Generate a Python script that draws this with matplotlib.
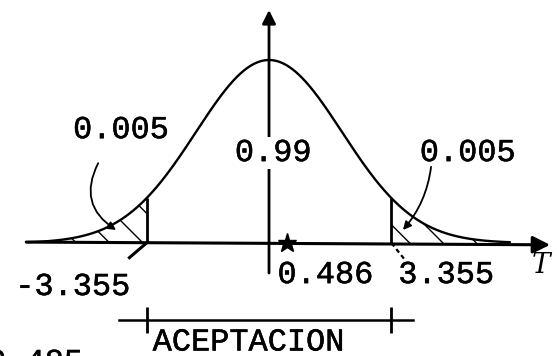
import numpy as np
import matplotlib
matplotlib.use("Agg")
import matplotlib.pyplot as plt
import matplotlib.patheffects as pe

# ---- data ----
t_crit = 3.355          # critical value (two tails)
t_obs = 0.486           # observed statistic
tail_area = 0.005       # area in each tail
center_area = 0.99      # acceptance area
sketch_sigma = 2.0      # spread used for the sketched bell
tail_labels = ["0.005", "0.005"]
center_label = "0.99"
crit_labels = ["-3.355", "3.355"]
obs_label = "0.486"
region_label = "ACEPTACION"
axis_label = "T"
bottom_label = "0.485"

plt.rcParams['hatch.linewidth'] = 1.0
fig = plt.figure(figsize=(5.57, 3.56), dpi=100)
ax = fig.add_axes([0, 0, 1, 1])
ax.set_xlim(-7.37, 7.89)
ax.set_ylim(-0.1232, 0.2649)
ax.axis('off')

def bell(x):
    return np.exp(-x**2 / (2 * sketch_sigma**2)) / (sketch_sigma * np.sqrt(2 * np.pi))

x = np.linspace(-6.6, 6.6, 600)
y = bell(x)
ax.plot(x, y, color='k', lw=1.7, solid_capstyle='round')

# shaded tails
ax.fill_between(x, 0, y, where=x <= -t_crit, facecolor='none', edgecolor='k',
                hatch='\\', lw=0)
ax.fill_between(x, 0, y, where=x >= t_crit, facecolor='none', edgecolor='k',
                hatch='\\', lw=0)

# critical lines
ax.vlines([-t_crit, t_crit], 0, bell(np.array([-t_crit, t_crit])), color='k', lw=2)

# horizontal axis
ax.annotate('', xy=(7.7, -0.002), xytext=(-6.65, 0.001),
            arrowprops=dict(arrowstyle='-|>', lw=2.2, color='k', mutation_scale=26,
                            shrinkA=0, shrinkB=0))
# vertical axis
ax.annotate('', xy=(0, 0.254), xytext=(0, -0.0327),
            arrowprops=dict(arrowstyle='-|>', lw=2.0, color='k', mutation_scale=20,
                            shrinkA=0, shrinkB=0))

# observed statistic marker
ax.plot([t_obs], [0], marker='*', ms=14, color='k')

# pointers below critical values
ax.plot([-t_crit, -t_crit - 0.47], [0, -0.016], color='k', lw=2.2)
ax.plot([t_crit, t_crit + 0.36], [0, -0.018], color='k', lw=1.6, ls=(0, (2, 1.5)))

# curly arrows from tail labels
ax.annotate('', xy=(-4.19, 0.0142), xytext=(-4.68, 0.087),
            arrowprops=dict(arrowstyle='-|>', lw=1.3, color='k', mutation_scale=12,
                            connectionstyle='arc3,rad=0.45', shrinkA=0, shrinkB=0))
ax.annotate('', xy=(3.67, 0.0142), xytext=(4.44, 0.083),
            arrowprops=dict(arrowstyle='-|>', lw=1.3, color='k', mutation_scale=12,
                            connectionstyle='arc3,rad=-0.15', shrinkA=0, shrinkB=0))

thick = [pe.withStroke(linewidth=0.35, foreground='k')]
font = dict(family=['Liberation Mono', 'DejaVu Sans Mono'], fontsize=23, color='k',
            path_effects=thick)

ax.text(-4.05, 0.123, tail_labels[0], ha='center', va='center', **font)
ax.text(5.45, 0.098, tail_labels[1], ha='center', va='center', **font)
ax.text(0.12, 0.098, center_label, ha='center', va='center',
        bbox=dict(facecolor='white', edgecolor='none', pad=1), **font)
ax.text(-5.37, -0.048, crit_labels[0], ha='center', va='center', **font)
ax.text(4.86, -0.035, crit_labels[1], ha='center', va='center', **font)
ax.text(1.55, -0.035, obs_label, ha='center', va='center', **font)

# acceptance bracket
ax.plot([-t_crit - 0.75, t_crit + 0.6], [-0.0839, -0.0839], color='k', lw=1.8)
ax.vlines([-t_crit, t_crit], -0.0980, -0.0700, color='k', lw=2)
ax.text(-0.55, -0.1085, region_label, ha='center', va='center', **font)
ax.text(-7.37 - 0.35, -0.1145, bottom_label, ha='left', va='top', **font)

ax.text(7.45, -0.025, axis_label, ha='center', va='center', fontsize=20,
        style='italic', family='DejaVu Serif', color='k')

fig.savefig('out.png', dpi=100)
